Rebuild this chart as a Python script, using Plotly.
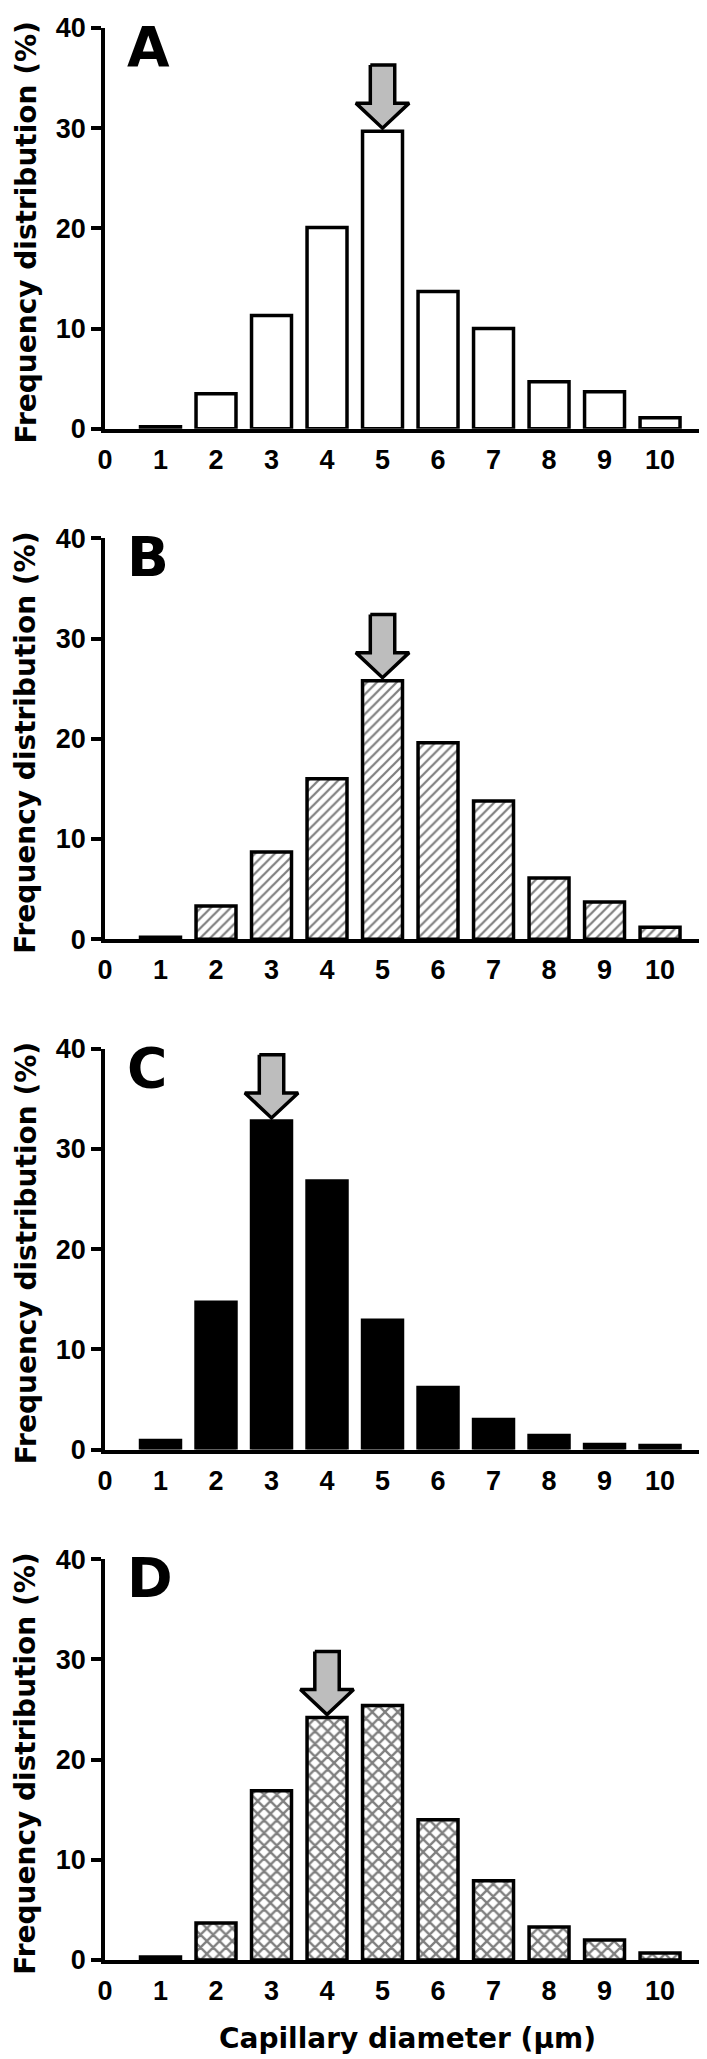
import plotly.graph_objects as go
from plotly.subplots import make_subplots

# ── Data ──────────────────────────────────────────────────────────────────────
diameter_um = [1, 2, 3, 4, 5, 6, 7, 8, 9, 10]
freq_a = [0.2, 3.5, 11.3, 20.1, 29.7, 13.7, 10.0, 4.7, 3.7, 1.1]
freq_b = [0.2, 3.3, 8.7, 16.0, 25.8, 19.6, 13.8, 6.1, 3.7, 1.2]
freq_c = [0.9, 14.7, 32.8, 26.8, 12.9, 6.2, 3.0, 1.4, 0.5, 0.4]
freq_d = [0.3, 3.7, 16.9, 24.2, 25.4, 14.0, 7.9, 3.3, 2.0, 0.7]
panel_labels = ["A", "B", "C", "D"]
peak_diameter = [5, 5, 3, 4]
x_ticks = [0, 1, 2, 3, 4, 5, 6, 7, 8, 9, 10]
y_ticks = [0, 10, 20, 30, 40]

# ── Style ─────────────────────────────────────────────────────────────────────
_BLACK = "#000000"
_ARROW_FILL = "#bdbdbd"
_TITLE_FAMILY = "DejaVu Sans, Verdana, sans-serif"
_TICK_FAMILY = "Liberation Sans, Arial, sans-serif"
_OUTLINE = dict(color=_BLACK, width=3.5)

panel_freqs = [freq_a, freq_b, freq_c, freq_d]
panel_markers = [
    dict(color="white", line=_OUTLINE),
    dict(color="white", line=_OUTLINE,
         pattern=dict(shape="/", fgcolor=_BLACK, bgcolor="white", size=7, solidity=0.32)),
    dict(color=_BLACK, line=_OUTLINE),
    dict(color="white", line=_OUTLINE,
         pattern=dict(shape="x", fgcolor=_BLACK, bgcolor="white", size=9, solidity=0.45)),
]


def _font(size, family=_TITLE_FAMILY):
    return dict(family=family, size=size, color=_BLACK, weight="bold")


def _arrow_path(cx, top_of_bar):
    """Downward block arrow sitting just above a bar (data units)."""
    tip = top_of_bar + 0.3
    head = tip + 2.5
    tail = tip + 6.3
    hw, sw = 0.48, 0.22
    xs = [cx - sw, cx + sw, cx + sw, cx + hw, cx, cx - hw, cx - sw, cx - sw]
    ys = [tail, tail, head, head, tip, head, head, tail]
    return xs, ys


fig = make_subplots(rows=4, cols=1, vertical_spacing=110 / 1938)

for i, (freqs, marker) in enumerate(zip(panel_freqs, panel_markers)):
    row = i + 1
    fig.add_trace(go.Bar(
        x=diameter_um,
        y=freqs,
        width=0.72,
        marker=marker,
        showlegend=False,
        hovertemplate="%{x} µm: %{y:.1f}%<extra></extra>",
    ), row=row, col=1)

    peak = peak_diameter[i]
    ax, ay = _arrow_path(peak, freqs[diameter_um.index(peak)])
    fig.add_trace(go.Scatter(
        x=ax, y=ay,
        mode="lines",
        fill="toself",
        fillcolor=_ARROW_FILL,
        line=dict(color=_BLACK, width=3.5),
        showlegend=False,
        hoverinfo="skip",
    ), row=row, col=1)

    suffix = "" if row == 1 else str(row)
    fig.add_annotation(
        text=panel_labels[i],
        xref=f"x{suffix}", yref=f"y{suffix}",
        x=0.36, y=38.1,
        xanchor="left", yanchor="middle",
        showarrow=False,
        font=_font(55),
    )
    fig.add_annotation(
        text="Frequency distribution (%)",
        xref="paper", yref=f"y{suffix} domain",
        x=0, y=0.49, xshift=-79,
        xanchor="center", yanchor="middle",
        textangle=-90,
        showarrow=False,
        font=_font(28),
    )

fig.add_annotation(
    text="Capillary diameter (µm)",
    xref="paper", yref="paper",
    x=0.5, y=0, yshift=-78,
    xanchor="center", yanchor="middle",
    showarrow=False,
    font=_font(28),
)

fig.update_xaxes(
    range=[0, 10.9],
    tickvals=x_ticks,
    ticks="",
    ticklabelstandoff=4,
    showline=True, linecolor=_BLACK, linewidth=3.5,
    showgrid=False, zeroline=False,
    tickfont=_font(27, _TICK_FAMILY),
    fixedrange=True,
)
fig.update_yaxes(
    range=[0, 40],
    tickvals=y_ticks,
    ticks="outside", ticklen=10, tickwidth=3.5, tickcolor=_BLACK,
    showline=True, linecolor=_BLACK, linewidth=3.5,
    showgrid=False, zeroline=False,
    tickfont=_font(27, _TICK_FAMILY),
    fixedrange=True,
)

fig.update_layout(
    width=707, height=2059,
    margin=dict(l=97, r=5, t=14, b=107),
    paper_bgcolor="white",
    plot_bgcolor="white",
    bargap=0.28,
)

fig.write_html("out.html")
